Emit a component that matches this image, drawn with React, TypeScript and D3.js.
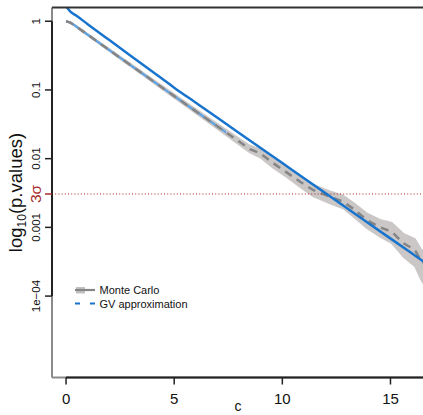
import React from "react";
import * as d3 from "d3";

// ---- data ----
const gvC = [0, 0.2, 0.5, 1, 2, 3, 4, 5, 6, 8, 10, 12, 14, 16, 17];
const gvP = [1.66, 1.38, 1.19, 0.906, 0.532, 0.313, 0.184, 0.108, 0.0652, 0.0237, 0.00863, 0.00314, 0.00114, 0.000416, 0.00025];

const mcC = [0, 0.2, 0.4, 0.8, 1.5, 2.5, 3.5, 4.5, 5.5, 6.5, 7.5, 8.5, 8.97, 9.57, 10.2, 10.82, 11.42, 12.2, 12.81, 13.36, 13.9, 14.52, 15.06, 15.6, 16.13, 16.44, 16.7];
const mcP = [1, 0.955, 0.871, 0.706, 0.493, 0.294, 0.176, 0.105, 0.0631, 0.038, 0.0229, 0.0138, 0.012, 0.00865, 0.00631, 0.00462, 0.0035, 0.0028, 0.00237, 0.00179, 0.00128, 0.001, 0.000865, 0.000587, 0.00047, 0.000317, 0.000282];
const mcHi = [1, 0.977, 0.891, 0.731, 0.511, 0.308, 0.185, 0.112, 0.0676, 0.0412, 0.0251, 0.0155, 0.0138, 0.00993, 0.00741, 0.00543, 0.00421, 0.00337, 0.00291, 0.0022, 0.00161, 0.00129, 0.00117, 0.000811, 0.000679, 0.000469, 0.000427];
const mcLo = [1, 0.933, 0.851, 0.682, 0.476, 0.281, 0.168, 0.0995, 0.0589, 0.0351, 0.0207, 0.0123, 0.0104, 0.00736, 0.00537, 0.00385, 0.00284, 0.00222, 0.00188, 0.00136, 0.000973, 0.000726, 0.000585, 0.000371, 0.00027, 0.000166, 0.000125];

const xTicks = [0, 5, 10, 15];
const yTicks = [1, 0.1, 0.01, 0.001, 0.0001];
const yTickLabels = ["1", "0.1", "0.01", "0.001", "1e\u221204"];
const sigma3P = 0.00306;
const legendLabels = ["Monte Carlo", "GV approximation"];

const FONT = "'Liberation Sans', Arial, Helvetica, sans-serif";

export default function App() {
  const W = 423, H = 415;
  const L = 52, R = 424, T = 7.5, B = 377.5;
  const x = d3.scaleLinear().domain([-0.65, 16.55]).range([L, R]);
  const y = d3.scaleLog().domain([Math.pow(10, 0.2), Math.pow(10, -5.185)]).range([T, B]);

  const gvLine = d3.line<number>().x((_, i) => x(gvC[i])).y((d) => y(d)).curve(d3.curveMonotoneX);
  const mcLine = d3.line<number>().x((_, i) => x(mcC[i])).y((d) => y(d)).curve(d3.curveLinear);
  const band = d3
    .area<number>()
    .x((_, i) => x(mcC[i]))
    .y0((_, i) => y(mcLo[i]))
    .y1((d) => y(d))
    .curve(d3.curveLinear);

  const ySig = y(sigma3P);

  return (
    <svg width={W} height={H} style={{ position: "absolute", left: 0, top: 0 }} fontFamily={FONT}>
      <defs>
        <clipPath id="plot">
          <rect x={L} y={T} width={R - L} height={B - T} />
        </clipPath>
        <clipPath id="early">
          <rect x={L} y={T} width={x(7.4) - L} height={B - T} />
        </clipPath>
      </defs>
      <rect x={0} y={0} width={W} height={H} fill="#fff" />
      <g clipPath="url(#plot)">
        <path d={band(mcHi) || ""} fill="#cbc7c7" stroke="#cbc7c7" strokeWidth={1.5} strokeLinejoin="miter" />
        <g clipPath="url(#early)">
          <path d={mcLine(mcP) || ""} fill="none" stroke="#5aa2e4" strokeWidth={2} />
        </g>
        <path d={mcLine(mcP) || ""} fill="none" stroke="#858585" strokeWidth={2.5} strokeDasharray="8,6" />
        <line x1={L} x2={R} y1={ySig} y2={ySig} stroke="#b22222" strokeWidth={1} strokeDasharray="1,2.2" />
        <path d={gvLine(gvP) || ""} fill="none" stroke="#1874cd" strokeWidth={2.5} />
      </g>

      {/* box */}
      <line x1={L} x2={L} y1={T} y2={B} stroke="#8a8a8a" strokeWidth={2} />
      <line x1={L} x2={R} y1={B} y2={B} stroke="#8a8a8a" strokeWidth={2} />
      <line x1={L} x2={R} y1={T} y2={T} stroke="#333" strokeWidth={2} />

      {/* left axis */}
      <line x1={L} x2={L} y1={y(yTicks[0])} y2={y(yTicks[yTicks.length - 1])} stroke="#222" strokeWidth={2} />
      {yTicks.map((t, i) => (
        <g key={i}>
          <line x1={L - 7} x2={L} y1={y(t)} y2={y(t)} stroke="#222" strokeWidth={1.5} />
          <text
            transform={`translate(40,${y(t)}) rotate(-90)`}
            textAnchor="middle"
            fontSize={11.5}
            fill="#111"
          >
            {yTickLabels[i]}
          </text>
        </g>
      ))}
      <line x1={L - 7} x2={L} y1={ySig} y2={ySig} stroke="#a52a2a" strokeWidth={1.5} />
      <text transform={`translate(41,${ySig}) rotate(-90)`} textAnchor="middle" fontSize={15.5} fill="#a52a2a">
        3σ
      </text>

      {/* bottom axis */}
      <line x1={x(0)} x2={R} y1={B} y2={B} stroke="#222" strokeWidth={2} />
      {xTicks.map((t) => (
        <g key={t}>
          <line x1={x(t)} x2={x(t)} y1={B} y2={B + 7} stroke="#222" strokeWidth={1.5} />
          <text x={x(t)} y={403.5} textAnchor="middle" fontSize={15} fill="#111">
            {t}
          </text>
        </g>
      ))}
      <text x={(L + R) / 2} y={411} textAnchor="middle" fontSize={14} fill="#111">
        c
      </text>

      {/* y title */}
      <text transform={`translate(22,${(T + B) / 2}) rotate(-90)`} textAnchor="middle" fontSize={18.5} fill="#111">
        log<tspan fontSize={12} dy={4}>10</tspan>
        <tspan dy={-4}>(p.values)</tspan>
      </text>

      {/* legend */}
      <rect x={76} y={287} width={9} height={6.5} fill="#c4c0c0" />
      <line x1={75} x2={95} y1={290} y2={290} stroke="#858585" strokeWidth={2.2} />
      <text x={99.5} y={294} fontSize={11} fill="#111">
        {legendLabels[0]}
      </text>
      <line x1={75} x2={95} y1={303.5} y2={303.5} stroke="#1874cd" strokeWidth={2.2} strokeDasharray="5,10" />
      <text x={99.5} y={307.5} fontSize={11} fill="#111">
        {legendLabels[1]}
      </text>
    </svg>
  );
}
